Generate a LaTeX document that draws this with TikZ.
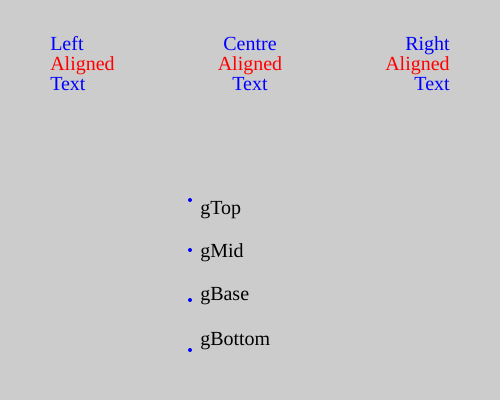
\documentclass[tikz,border=0pt]{standalone}
\usepackage{fontspec}
\setmainfont{Liberation Serif}
\definecolor{bg}{HTML}{CCCCCC}
\definecolor{tblue}{HTML}{0000FF}
\definecolor{tred}{HTML}{FF0000}
\begin{document}
\begin{tikzpicture}[x=0.75pt,y=-0.75pt,
  txt/.style={inner sep=0pt,font=\fontsize{15pt}{18pt}\selectfont},
  bl/.style={txt,text=tblue},
  rd/.style={txt,text=tred},
  lab/.style={txt,text=black,anchor=base west},
  dot/.style={fill=tblue,draw=none}]
\fill[bg] (0,0) rectangle (500,400);
\useasboundingbox (0,0) rectangle (500,400);
% left aligned
\node[bl,anchor=base west] (l1) at (50,50) {Left};
\node[rd,anchor=base west] (l2) at (50,70) {Aligned};
\node[bl,anchor=base west] (l3) at (50,90) {Text};
% centre
\node[bl,anchor=base] (c1) at (250,50) {Centre};
\node[rd,anchor=base] (c2) at (250,70) {Aligned};
\node[bl,anchor=base] (c3) at (250,90) {Text};
% right
\node[bl,anchor=base east] (r1) at (450,50) {Right};
\node[rd,anchor=base east] (r2) at (450,70) {Aligned};
\node[bl,anchor=base east] (r3) at (450,90) {Text};
% baseline tests
\fill[dot] (190,200) circle (2);
\fill[dot] (190,250) circle (2);
\fill[dot] (190,300) circle (2);
\fill[dot] (190,350) circle (2);
\node[lab] (gtop) at (200,214.5) {gTop};
\node[lab] (gmid) at (200,257) {gMid};
\node[lab] (gbase) at (200,300) {gBase};
\node[lab] (gbottom) at (200,345.5) {gBottom};
\end{tikzpicture}
\end{document}
